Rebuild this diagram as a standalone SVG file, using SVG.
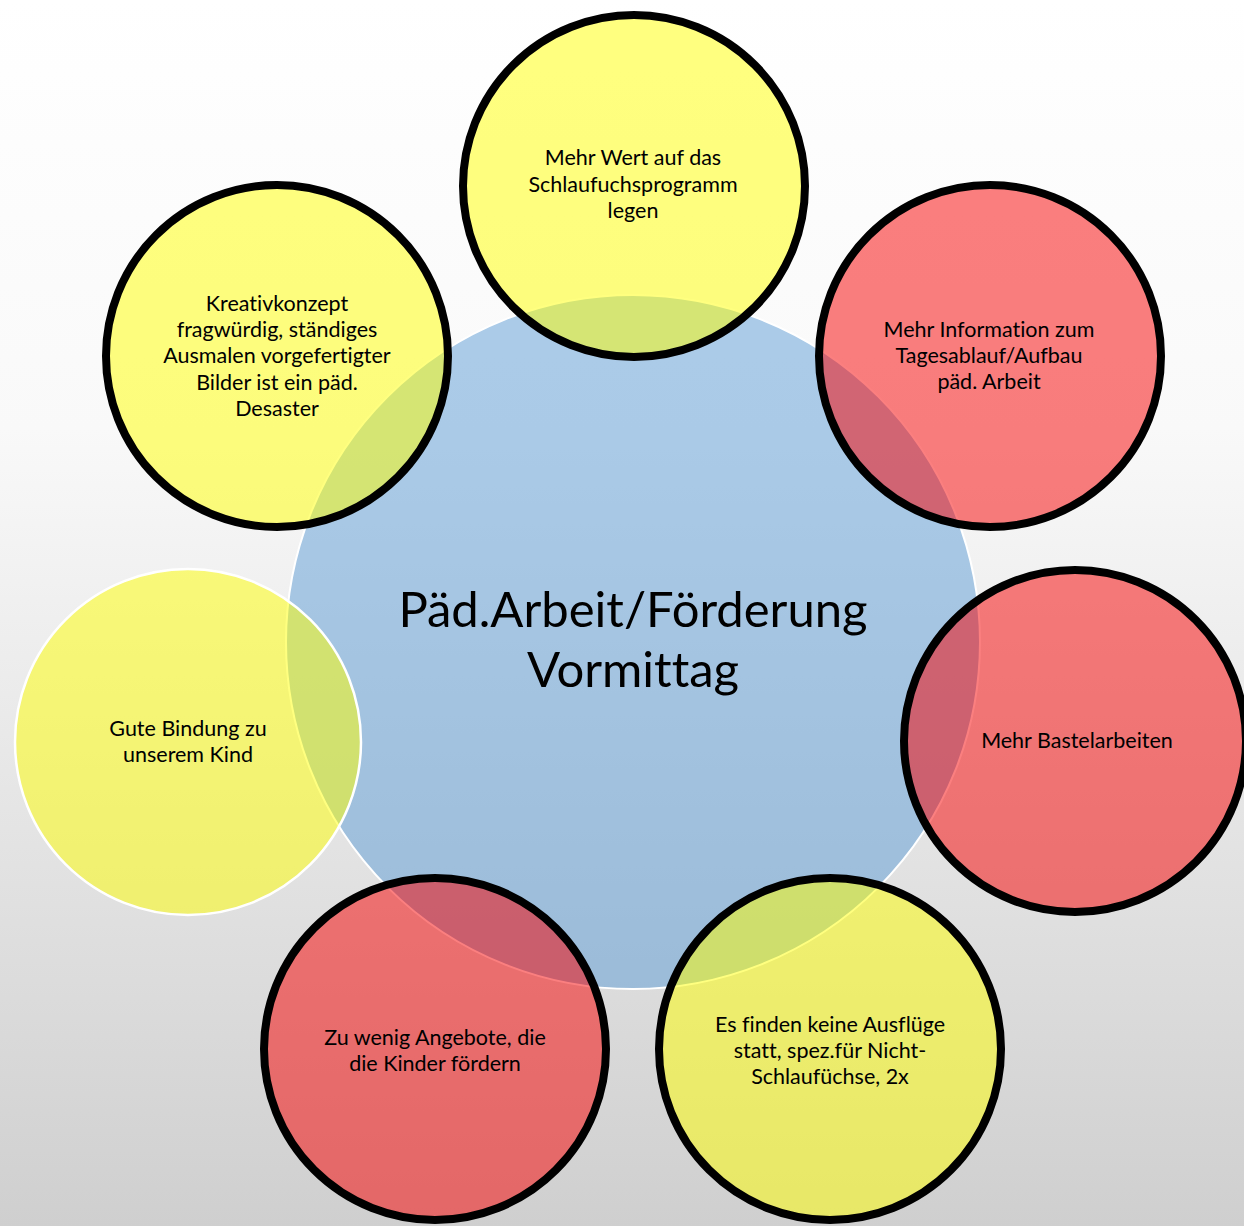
<svg xmlns="http://www.w3.org/2000/svg" width="1244" height="1226" viewBox="0 0 1244 1226">
<defs>
<linearGradient id="bg" x1="0" y1="0" x2="0" y2="1">
<stop offset="0" stop-color="#ffffff"/>
<stop offset="0.35" stop-color="#f9f9f9"/>
<stop offset="1" stop-color="#cfcfcf"/>
</linearGradient>
</defs>
<style>
.hub{fill:#5b9bd5;fill-opacity:0.5;stroke:#ffffff;stroke-width:2}
.y{fill:#ffff00;fill-opacity:0.5}
.r{fill:#f80000;fill-opacity:0.5}
.blk{stroke:#000000;stroke-width:8}
.wht{stroke:#ffffff;stroke-width:2.5}
text{font-family:Lato,"Open Sans","Liberation Sans",sans-serif;fill:#000000;text-anchor:middle;font-variant-ligatures:none}
.t{font-size:21.5px}
.c{font-size:49px}
</style>
<rect x="0" y="0" width="1244" height="1226" fill="url(#bg)"/>
<g id="hub">
<circle class="hub" cx="633" cy="642" r="347"/>
<text class="c" x="633" y="627">Päd.Arbeit/Förderung</text>
<text class="c" x="633" y="687">Vormittag</text>
</g>
<g id="n-top">
<circle class="y blk" cx="634" cy="186" r="171"/>
<text class="t" x="633" y="165">Mehr Wert auf das</text>
<text class="t" x="633" y="192">Schlaufuchsprogramm</text>
<text class="t" x="633" y="218">legen</text>
</g>
<g id="n-topright">
<circle class="r blk" cx="990" cy="356" r="171"/>
<text class="t" x="989" y="337">Mehr Information zum</text>
<text class="t" x="989" y="363">Tagesablauf/Aufbau</text>
<text class="t" x="989" y="389">päd. Arbeit</text>
</g>
<g id="n-right">
<circle class="r blk" cx="1075" cy="741" r="171"/>
<text class="t" x="1077" y="748">Mehr Bastelarbeiten</text>
</g>
<g id="n-bottomright">
<circle class="y blk" cx="830" cy="1049" r="171"/>
<text class="t" x="830" y="1032">Es finden keine Ausflüge</text>
<text class="t" x="830" y="1058">statt, spez.für Nicht-</text>
<text class="t" x="830" y="1084">Schlaufüchse, 2x</text>
</g>
<g id="n-bottomleft">
<circle class="r blk" cx="435" cy="1049" r="171"/>
<text class="t" x="435" y="1045">Zu wenig Angebote, die</text>
<text class="t" x="435" y="1071">die Kinder fördern</text>
</g>
<g id="n-left">
<circle class="y wht" cx="188" cy="742" r="173"/>
<text class="t" x="188" y="736">Gute Bindung zu</text>
<text class="t" x="188" y="762">unserem Kind</text>
</g>
<g id="n-topleft">
<circle class="y blk" cx="277" cy="356" r="171"/>
<text class="t" x="277" y="311">Kreativkonzept</text>
<text class="t" x="277" y="337">fragwürdig, ständiges</text>
<text class="t" x="277" y="363">Ausmalen vorgefertigter</text>
<text class="t" x="277" y="390">Bilder ist ein päd.</text>
<text class="t" x="277" y="416">Desaster</text>
</g>
<g id="connectors"/>
</svg>
